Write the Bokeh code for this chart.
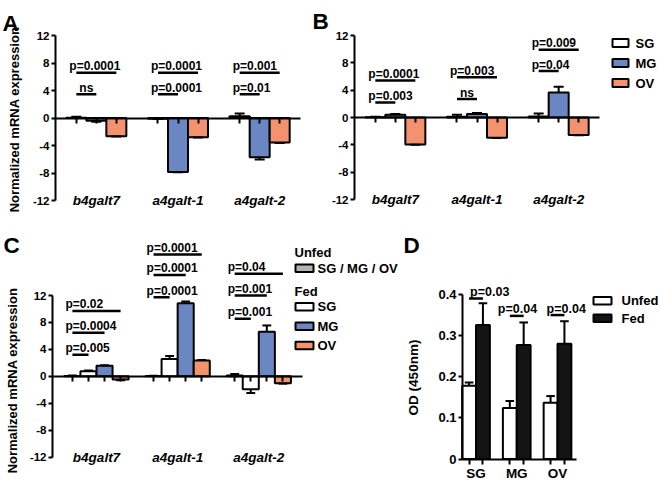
import math
from bokeh.plotting import figure
from bokeh.models import Range1d, LinearAxis, FixedTicker
from bokeh.layouts import row, column
from bokeh.core.properties import value
from bokeh.embed import file_html
from bokeh.resources import INLINE

FONT = "Liberation Sans"

# ---------------- data ----------------
genes = ["b4galt7", "a4galt-1", "a4galt-2"]
gene_pos = [0.5, 1.5, 2.5]
y_ticks = [-12, -8, -4, 0, 4, 8, 12]
y_tick_labels = ["-12", "-8", "-4", "0", "4", "8", "12"]
tissues = ["SG", "MG", "OV"]

# Panel A
a_sg = [0.05, -0.10, 0.25]
a_sg_err = [0.15, 0.05, 0.40]
a_mg = [-0.40, -7.85, -5.70]
a_mg_err = [0.15, 0.05, 0.35]
a_ov = [-2.65, -2.80, -3.55]
a_ov_err = [0.05, 0.05, 0.10]
a_sig_gene = [0, 0, 1, 1, 2, 2]
a_sig_to = [1, 2, 1, 2, 1, 2]
a_sig_y = [3.45, 6.6, 3.45, 6.6, 3.45, 6.6]
a_sig_text = ["ns", "p=0.0001", "p=0.0001", "p=0.0001", "p=0.01", "p=0.001"]

# Panel B
b_sg = [0.05, 0.10, 0.15]
b_sg_err = [0.05, 0.30, 0.45]
b_mg = [0.40, 0.50, 3.65]
b_mg_err = [0.10, 0.15, 0.85]
b_ov = [-3.95, -2.95, -2.55]
b_ov_err = [0.05, 0.05, 0.05]
b_sig_gene = [0, 0, 1, 1, 2, 2]
b_sig_to = [1, 2, 1, 2, 1, 2]
b_sig_y = [2.2, 5.4, 2.7, 5.9, 6.8, 9.9]
b_sig_text = ["p=0.003", "p=0.0001", "ns", "p=0.003", "p=0.04", "p=0.009"]

# Panel C
c_unfed_label = "SG / MG / OV"
c_unfed = [0.05, 0.03, 0.10]
c_unfed_err = [0.05, 0.03, 0.25]
c_sg = [0.75, 2.55, -1.95]
c_sg_err = [0.10, 0.45, 0.55]
c_mg = [1.55, 10.85, 6.60]
c_mg_err = [0.10, 0.25, 0.95]
c_ov = [-0.50, 2.35, -1.05]
c_ov_err = [0.08, 0.05, 0.05]
c_sig_gene = [0, 0, 0, 1, 1, 1, 2, 2, 2]
c_sig_to = [1, 2, 3, 1, 2, 3, 1, 2, 3]
c_sig_y = [3.2, 6.45, 9.7, 11.75, 15.05, 18.1, 8.55, 12.0, 15.25]
c_sig_text = ["p=0.005", "p=0.0004", "p=0.02", "p=0.0001", "p=0.0001",
              "p=0.0001", "p=0.001", "p=0.001", "p=0.04"]

# Panel D
d_groups = ["SG", "MG", "OV"]
d_pos = [0, 1, 2]
d_conditions = ["Unfed", "Fed"]
d_unfed = [0.178, 0.124, 0.137]
d_unfed_err = [0.008, 0.017, 0.016]
d_fed = [0.326, 0.277, 0.280]
d_fed_err = [0.053, 0.055, 0.055]
d_ticks = [0, 0.1, 0.2, 0.3, 0.4]
d_tick_labels = ["0", "0.1", "0.2", "0.3", "0.4"]
d_sig_y = [0.39, 0.348, 0.350]
d_sig_text = ["p=0.03", "p=0.04", "p=0.04"]

# ---------------- styles ----------------
BLUE = "#6b87c3"
SALMON = "#f4916f"
GREY = "#b4b4b4"
WHITE = "#ffffff"
BLACK = "#141414"
TEXT_GAP = 6.5          # px between significance line and text baseline
TEXT_SHIFT = -7         # px, text start relative to line start
D_TEXT_SHIFT = [1, -12, -4]
ROW_SPLIT = 224


class Panel:
    """A figure whose frame fills the whole figure; xa/ya map page px to data."""
    def __init__(self, fig_box, xa, ya):
        X0, Y0, X1, Y1 = fig_box
        rxa, vxa, rxb, vxb = xa
        rya, vya, ryb, vyb = ya
        self.rx = lambda r: vxa + (r - rxa) * (vxb - vxa) / (rxb - rxa)
        self.ry = lambda r: vya + (r - rya) * (vyb - vya) / (ryb - rya)
        self.ppu = abs((ryb - rya) / (vyb - vya))
        self.p = figure(width=X1 - X0, height=Y1 - Y0,
                        x_range=Range1d(self.rx(X0), self.rx(X1)),
                        y_range=Range1d(self.ry(Y1), self.ry(Y0)),
                        x_axis_type=None, y_axis_type=None,
                        toolbar_location=None, output_backend="svg",
                        min_border=0, min_border_left=0, min_border_right=0,
                        min_border_top=0, min_border_bottom=0)
        self.p.outline_line_color = None
        self.p.background_fill_color = "white"
        self.p.border_fill_color = "white"


def y_axis(pn, at, ticks, labels, bounds, size):
    ax = LinearAxis(fixed_location=at, ticker=FixedTicker(ticks=ticks), bounds=bounds,
                    major_label_overrides={t: l for t, l in zip(ticks, labels)},
                    axis_line_width=2, axis_line_color="black",
                    major_tick_line_width=2, major_tick_in=0, major_tick_out=4,
                    minor_tick_line_color=None, major_label_standoff=2,
                    major_label_text_font=FONT, major_label_text_font_style="bold",
                    major_label_text_font_size=size, major_label_text_color="black")
    pn.p.add_layout(ax, "left")


def zero_axis(pn, ticks, lo, hi):
    ax = LinearAxis(fixed_location=0, ticker=FixedTicker(ticks=ticks), bounds=(lo, hi),
                    axis_line_width=2, axis_line_color="black",
                    major_tick_line_width=2, major_tick_in=0, major_tick_out=5,
                    minor_tick_line_color=None, major_label_text_color=None)
    pn.p.add_layout(ax, "below")


def draw_bars(pn, centers, vals_list, errs_list, colors, width, cap_frac):
    n = len(vals_list)
    bar_x = []
    for i, (vals, col) in enumerate(zip(vals_list, colors)):
        off = (i - (n - 1) / 2) * width
        xs = [c + off for c in centers]
        bar_x.append(xs)
        pn.p.vbar(x=xs, top=vals, bottom=0, width=width, fill_color=col,
                  line_color="black", line_width=2)
    hw = width * cap_frac / 2
    for xs, vals, errs in zip(bar_x, vals_list, errs_list):
        ends = [v + (e if v >= 0 else -e) for v, e in zip(vals, errs)]
        pn.p.segment(x0=xs, y0=vals, x1=xs, y1=ends, line_color="black", line_width=2)
        pn.p.segment(x0=[x - hw for x in xs], y0=ends, x1=[x + hw for x in xs], y1=ends,
                     line_color="black", line_width=2)
    return bar_x


def draw_sig(pn, bar_x, gidx, tidx, ys, texts, size, shifts=None):
    x0 = [bar_x[0][g] for g in gidx]
    x1 = [bar_x[t][g] for g, t in zip(gidx, tidx)]
    pn.p.segment(x0=x0, y0=ys, x1=x1, y1=ys, line_color="black", line_width=2.5)
    dy = TEXT_GAP / pn.ppu
    if shifts is None:
        shifts = [TEXT_SHIFT] * len(texts)
    common = dict(text_font=value(FONT), text_font_style="bold", text_font_size=size,
                  text_color="black", text_baseline="alphabetic")
    for a, b, y, t, s in zip(x0, x1, ys, texts, shifts):
        if t == "ns":
            pn.p.text(x=[(a + b) / 2], y=[y + dy], text=[t], text_align="center", **common)
        else:
            pn.p.text(x=[a], y=[y + dy], text=[t], text_align="left", x_offset=s, **common)


def cat_labels(pn, xs, labels, y):
    pn.p.text(x=xs, y=[y] * len(xs), text=labels, text_align="center",
              text_baseline="middle", text_font=value(FONT),
              text_font_style="bold italic", text_font_size="13.5px", text_color="black")


def legend_box(pn, l, t, r, b, color):
    pn.p.quad(left=[pn.rx(l)], right=[pn.rx(r)], top=[pn.ry(t)], bottom=[pn.ry(b)],
              fill_color=color, line_color="black", line_width=2)


def legend_text(pn, x, y, txt, size="13px"):
    pn.p.text(x=[pn.rx(x)], y=[pn.ry(y)], text=[txt], text_align="left",
              text_baseline="middle", text_font=value(FONT), text_font_style="bold",
              text_font_size=size, text_color="black")


def letter(pn, x, y_base, txt):
    pn.p.text(x=[pn.rx(x)], y=[pn.ry(y_base)], text=[txt], text_align="left",
              text_baseline="alphabetic", text_font=value(FONT), text_font_style="bold",
              text_font_size="22.5px", text_color="black")


def y_title(pn, x, y, txt, size):
    pn.p.text(x=[pn.rx(x)], y=[pn.ry(y)], text=[txt], angle=math.pi / 2,
              text_align="center", text_baseline="middle", text_font=value(FONT),
              text_font_style="bold", text_font_size=size, text_color="black")


# ---------------- Panel A ----------------
pa = Panel((0, 0, 310, ROW_SPLIT), (55, 0, 300, 3), (35, 12, 200, -12))
bx = draw_bars(pa, gene_pos, [a_sg, a_mg, a_ov], [a_sg_err, a_mg_err, a_ov_err],
               [WHITE, BLUE, SALMON], 0.245, 0.5)
zero_axis(pa, sorted(x for xs in bx for x in xs), 0, 3)
y_axis(pa, 0, y_ticks, y_tick_labels, (-12, 12), "11.5px")
draw_sig(pa, bx, a_sig_gene, a_sig_to, a_sig_y, a_sig_text, "12px")
cat_labels(pa, gene_pos, genes, -12)
letter(pa, 2, 23, "A")
y_title(pa, 14, 119, "Normalized mRNA expression", "13px")

# ---------------- Panel B ----------------
pb = Panel((310, 0, 660, ROW_SPLIT), (354, 0, 599, 3), (35, 12, 199, -12))
bx = draw_bars(pb, gene_pos, [b_sg, b_mg, b_ov], [b_sg_err, b_mg_err, b_ov_err],
               [WHITE, BLUE, SALMON], 0.245, 0.5)
zero_axis(pb, sorted(x for xs in bx for x in xs), 0, 3)
y_axis(pb, 0, y_ticks, y_tick_labels, (-12, 12), "11.5px")
draw_sig(pb, bx, b_sig_gene, b_sig_to, b_sig_y, b_sig_text, "12px")
cat_labels(pb, gene_pos, genes, -12)
letter(pb, 312, 21, "B")
for i, (name, col) in enumerate(zip(tissues, [WHITE, BLUE, SALMON])):
    top = 38.5 + 20 * i
    legend_box(pb, 612, top, 628, top + 8, col)
    legend_text(pb, 635, top + 4, name)

# ---------------- Panel C ----------------
pc = Panel((0, ROW_SPLIT, 400, 483), (96, 0.5, 258.3, 2.5), (295, 12, 456.5, -12))
bx = draw_bars(pc, gene_pos, [c_unfed, c_sg, c_mg, c_ov],
               [c_unfed_err, c_sg_err, c_mg_err, c_ov_err],
               [GREY, WHITE, BLUE, SALMON], 0.198, 0.55)
zero_axis(pc, sorted(x for xs in bx for x in xs), pc.rx(52), pc.rx(302))
y_axis(pc, pc.rx(52), y_ticks, y_tick_labels, (-12, 12), "11.5px")
draw_sig(pc, bx, c_sig_gene, c_sig_to, c_sig_y, c_sig_text, "12px")
cat_labels(pc, gene_pos, genes, -12)
letter(pc, 3, 245, "C")
y_title(pc, 12, 380, "Normalized mRNA expression", "13px")
legend_text(pc, 294, 252, "Unfed")
legend_box(pc, 295, 264, 313, 271.5, GREY)
legend_text(pc, 317, 267.5, c_unfed_label)
legend_text(pc, 294, 290.5, "Fed")
for i, (name, col) in enumerate(zip(tissues, [WHITE, BLUE, SALMON])):
    top = 302.5 + 19.4 * i
    legend_box(pc, 295, top, 313, top + 7.5, col)
    legend_text(pc, 317, top + 3.75, name)

# ---------------- Panel D ----------------
pd_ = Panel((400, ROW_SPLIT, 660, 483), (475.5, 0, 557, 2), (294, 0.4, 458.5, 0))
bx = draw_bars(pd_, d_pos, [d_unfed, d_fed], [d_unfed_err, d_fed_err],
               [WHITE, BLACK], 0.34, 0.62)
zero_axis(pd_, sorted(x for xs in bx for x in xs), pd_.rx(462), pd_.rx(576))
lab_ax = LinearAxis(fixed_location=0, ticker=FixedTicker(ticks=d_pos),
                    major_label_overrides={k: v for k, v in zip(d_pos, d_groups)},
                    axis_line_color=None, major_tick_line_color=None,
                    minor_tick_line_color=None, major_tick_in=0, major_tick_out=0,
                    minor_tick_out=0, major_label_standoff=7,
                    major_label_text_font=FONT, major_label_text_font_style="bold",
                    major_label_text_font_size="13.5px", major_label_text_color="black")
pd_.p.add_layout(lab_ax, "below")
y_axis(pd_, pd_.rx(462), d_ticks, d_tick_labels, (0, 0.4), "13px")
draw_sig(pd_, bx, [0, 1, 2], [1, 1, 1], d_sig_y, d_sig_text, "12.5px", D_TEXT_SHIFT)
letter(pd_, 403, 245, "D")
y_title(pd_, 413, 377, "OD (450nm)", "13.5px")
for i, (name, col) in enumerate(zip(d_conditions, [WHITE, BLACK])):
    top = 296.5 + 17.5 * i
    legend_box(pd_, 593, top, 611, top + 7.5, col)
    legend_text(pd_, 621, top + 3.75, name)

layout = column(row(pa.p, pb.p, spacing=0), row(pc.p, pd_.p, spacing=0), spacing=0)
open("out.html", "w").write(file_html(layout, INLINE, title="Figure"))
